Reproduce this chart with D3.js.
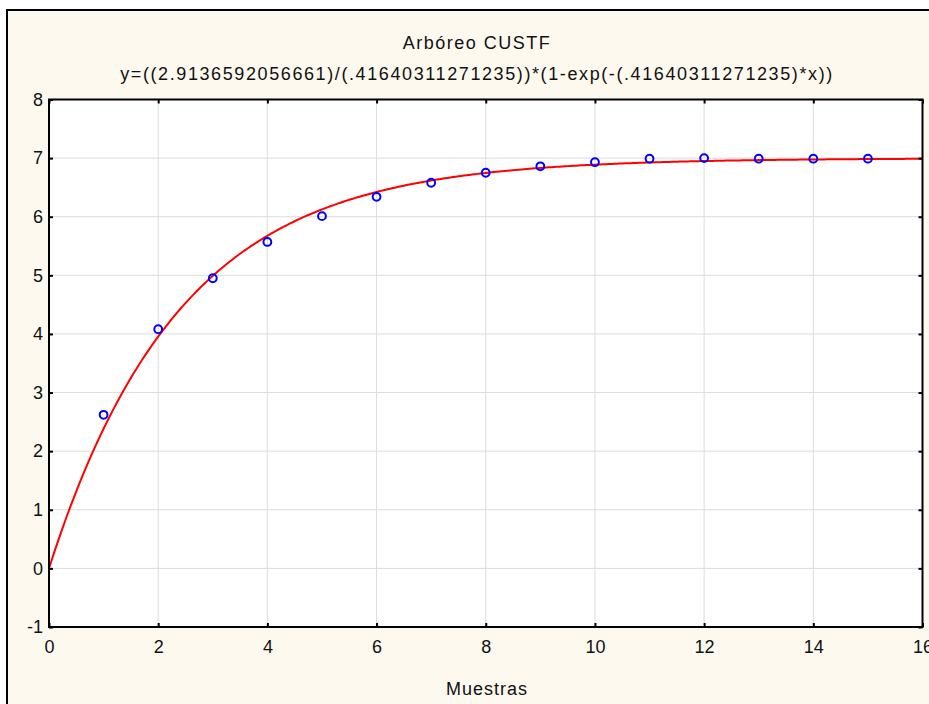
<!DOCTYPE html>
<html>
<head>
<meta charset="utf-8">
<script src="https://cdn.jsdelivr.net/npm/d3@7"></script>
<style>
  body { margin: 0; background: #fff; }
  text { font-family: "Liberation Sans", Arial, sans-serif; fill: #111; }
</style>
</head>
<body>
<div id="chart"></div>
<script>
// observed samples
const muestras = [1, 2, 3, 4, 5, 6, 7, 8, 9, 10, 11, 12, 13, 14, 15];
const valores = [2.62, 4.08, 4.95, 5.57, 6.01, 6.34, 6.58, 6.75, 6.86, 6.93, 6.99, 7.0, 6.99, 6.99, 6.99];

// fitted model coefficients shown in the subtitle
const coefA = 2.9136592056661;
const coefB = 0.41640311271235;

const xTicks = [0, 2, 4, 6, 8, 10, 12, 14, 16];
const yTicks = [-1, 0, 1, 2, 3, 4, 5, 6, 7, 8];

const title = "Arbóreo CUSTF";
const subtitle = "y=((2.9136592056661)/(.41640311271235))*(1-exp(-(.41640311271235)*x))";
const xLabel = "Muestras";

const W = 929, H = 704;
const plot = { left: 49, top: 99.5, right: 922.5, bottom: 627 };

const svg = d3.select("#chart").append("svg")
  .attr("width", W).attr("height", H);

// outer frame
svg.append("rect")
  .attr("x", 7).attr("y", 10)
  .attr("width", W).attr("height", H)
  .attr("fill", "#fdf9ef")
  .attr("stroke", "#000").attr("stroke-width", 2);

const x = d3.scaleLinear().domain([0, 16]).range([plot.left, plot.right]);
const y = d3.scaleLinear().domain([-1, 8]).range([plot.bottom, plot.top]);

svg.append("rect")
  .attr("x", plot.left).attr("y", plot.top)
  .attr("width", plot.right - plot.left).attr("height", plot.bottom - plot.top)
  .attr("fill", "#fff");

// grid
svg.append("g").selectAll("line").data(xTicks.slice(1, -1)).join("line")
  .attr("x1", d => x(d)).attr("x2", d => x(d))
  .attr("y1", plot.top).attr("y2", plot.bottom)
  .attr("stroke", "#dcdcdc").attr("stroke-width", 1);
svg.append("g").selectAll("line").data(yTicks.slice(1, -1)).join("line")
  .attr("y1", d => y(d)).attr("y2", d => y(d))
  .attr("x1", plot.left).attr("x2", plot.right)
  .attr("stroke", "#dcdcdc").attr("stroke-width", 1);

// fitted curve
const curveX = d3.range(0, 16.001, 0.05);
const line = d3.line()
  .x(d => x(d))
  .y(d => y((coefA / coefB) * (1 - Math.exp(-coefB * d))));
svg.append("path")
  .datum(curveX)
  .attr("d", line)
  .attr("fill", "none")
  .attr("stroke", "#ff0000")
  .attr("stroke-width", 2);

// points
svg.append("g").selectAll("circle").data(muestras).join("circle")
  .attr("cx", d => x(d))
  .attr("cy", (d, i) => y(valores[i]))
  .attr("r", 3.9)
  .attr("fill", "none")
  .attr("stroke", "#0000ff")
  .attr("stroke-width", 2);

// axes (inward ticks on all sides)
const tk = 4;
svg.append("g").attr("transform", `translate(0,${plot.bottom})`)
  .call(d3.axisBottom(x).tickValues(xTicks).tickSize(-tk).tickPadding(13).tickFormat(String))
  .call(g => g.select(".domain").remove());
svg.append("g").attr("transform", `translate(0,${plot.top})`)
  .call(d3.axisTop(x).tickValues(xTicks).tickSize(-tk).tickFormat(""))
  .call(g => g.select(".domain").remove());
svg.append("g").attr("transform", `translate(${plot.left},0)`)
  .call(d3.axisLeft(y).tickValues(yTicks).tickSize(-tk).tickPadding(6).tickFormat(String))
  .call(g => g.select(".domain").remove());
svg.append("g").attr("transform", `translate(${plot.right},0)`)
  .call(d3.axisRight(y).tickValues(yTicks).tickSize(-tk).tickFormat(""))
  .call(g => g.select(".domain").remove());

svg.selectAll(".tick line").attr("stroke", "#000").attr("stroke-width", 2);
svg.selectAll(".tick text")
  .style("font-family", "'Liberation Sans', Arial, sans-serif")
  .style("font-size", "18px").attr("fill", "#111");

svg.append("rect")
  .attr("x", plot.left).attr("y", plot.top)
  .attr("width", plot.right - plot.left).attr("height", plot.bottom - plot.top)
  .attr("fill", "none").attr("stroke", "#000").attr("stroke-width", 2);

// titles
svg.append("text").attr("x", 477).attr("y", 49)
  .attr("text-anchor", "middle").style("font-size", "18px")
  .style("letter-spacing", "1.5px").text(title);
svg.append("text").attr("x", 477).attr("y", 80)
  .attr("text-anchor", "middle").style("font-size", "18px")
  .style("letter-spacing", "1.6px").text(subtitle);
svg.append("text").attr("x", 487).attr("y", 695)
  .attr("text-anchor", "middle").style("font-size", "18px")
  .style("letter-spacing", "1px").text(xLabel);
</script>
</body>
</html>
